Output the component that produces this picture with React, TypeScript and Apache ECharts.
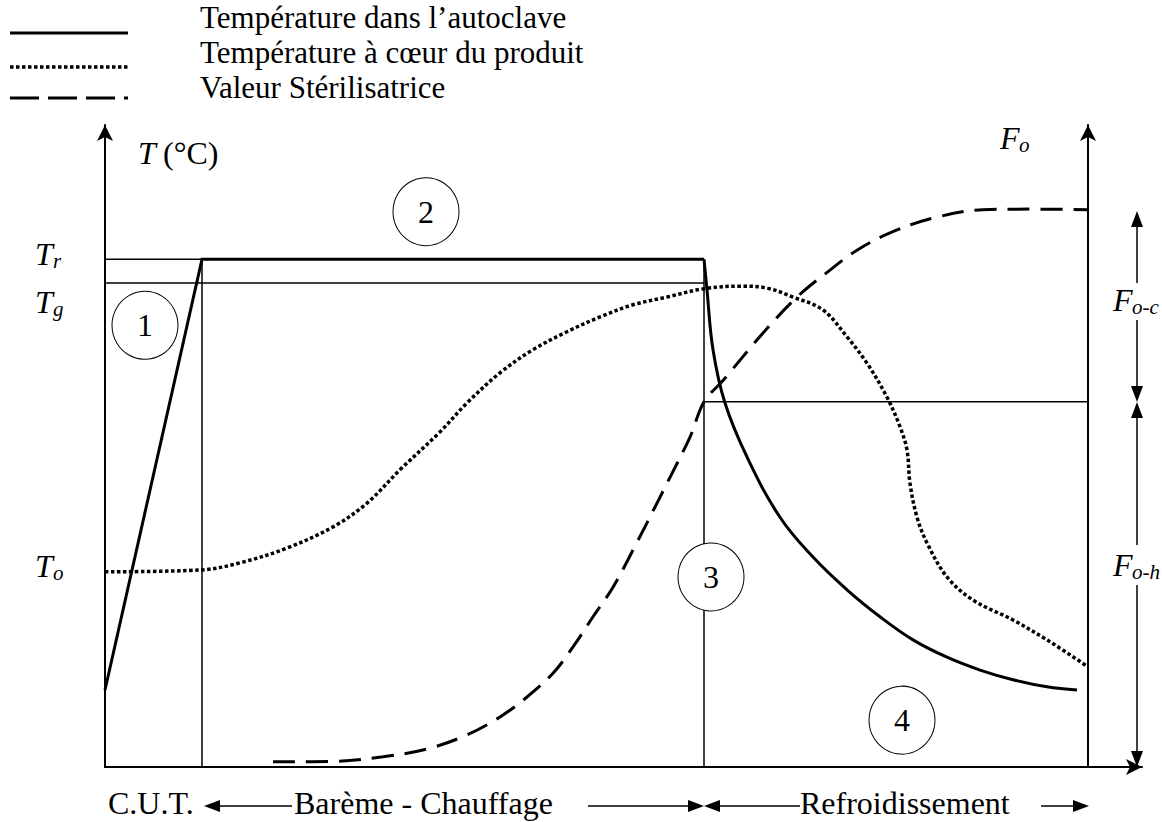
import React, { useEffect, useRef } from "react";
import * as echarts from "echarts";

// Arbitrary schematic units: x = time, y = temperature (left) / F0 (right)
const tCut = 9.7; // end of come-up time
const tCool = 59.9; // start of cooling
const tEnd = 98.3; // right axis (F0)
const levelTr = 79.1;
const levelTg = 75.4;
const levelFoH = 56.9;

const autoclaveHeatX = [0, 9.7, 59.9];
const autoclaveHeatY = [12.0, 79.1, 79.1];
const autoclaveCoolX = [59.9, 60.2, 60.8, 62.0, 64.2, 67.5, 70.8, 74.2, 77.5, 80.8, 84.2, 87.5, 90.8, 94.2, 97.2];
const autoclaveCoolY = [79.1, 74.3, 65.0, 56.7, 48.3, 38.9, 32.7, 27.6, 23.4, 19.8, 17.1, 15.1, 13.6, 12.5, 12.0];

const coreX = [0, 9.7, 13.5, 18.2, 22.8, 26.2, 29.5, 33.5, 36.2, 39.5, 42.8, 46.2, 49.5, 52.8, 56.2, 59.9, 63.5, 66.2, 68.8, 71.8, 74.2, 76.2, 78.2, 79.5, 80.2, 80.5, 81.2, 82.2, 84.2, 86.8, 90.8, 94.2, 98.3];
const coreY = [30.4, 30.7, 31.8, 34.1, 37.4, 41.1, 46.3, 52.2, 56.7, 61.4, 65.0, 67.8, 70.1, 72.0, 73.2, 74.5, 74.9, 74.6, 73.2, 71.2, 67.0, 62.9, 57.6, 53.0, 49.4, 44.2, 38.9, 34.9, 29.6, 26.0, 22.9, 19.8, 15.6];

const fX = [16.8, 23.2, 27.8, 32.2, 36.2, 39.5, 42.2, 44.8, 46.8, 48.8, 50.8, 52.8, 55.2, 56.2, 58.5, 59.9, 61.8, 65.8, 69.2, 72.5, 75.2, 78.5, 82.8, 87.8, 92.8, 98.3];
const fY = [0.8, 0.9, 1.6, 2.8, 5.0, 7.8, 10.9, 14.6, 18.7, 23.4, 28.0, 33.8, 41.1, 44.2, 51.4, 56.9, 60.2, 67.6, 73.2, 77.4, 80.5, 83.2, 85.5, 86.8, 86.9, 86.8];

const phaseLabels = ["1", "2", "3", "4"];
const phaseX = [4.0, 32.1, 60.6, 79.7];
const phaseY = [68.8, 86.5, 29.6, 7.3];

const legendLabels = [
  "Température dans l\u2019autoclave",
  "Température à cœur du produit",
  "Valeur Stérilisatrice",
];

const FONT = "'Liberation Serif', 'Times New Roman', serif";

const zip = (xs: number[], ys: number[]) => xs.map((x, i) => [x, ys[i]]);

function thin(data: number[][]) {
  return {
    type: "line",
    data,
    symbol: "none",
    silent: true,
    z: 1,
    lineStyle: { color: "#000", width: 1.5 },
  };
}

function txt(text: string, x: number, y: number, size: number, italic = false, align = "left") {
  return {
    type: "text",
    x,
    y,
    z: 100,
    style: {
      text,
      fill: "#000",
      font: `${italic ? "italic " : ""}${size}px ${FONT}`,
      fontFamily: FONT,
      fontSize: size,
      fontStyle: italic ? "italic" : "normal",
      align,
      verticalAlign: "middle",
    },
  };
}

function seg(x1: number, y1: number, x2: number, y2: number, w = 1.5, dash?: number[]) {
  return {
    type: "line",
    z: 100,
    shape: { x1, y1, x2, y2 },
    style: { stroke: "#000", lineWidth: w, lineDash: dash || null, lineCap: "butt" },
  };
}

function head(tx: number, ty: number, dir: "l" | "r" | "u" | "d") {
  const L = 16;
  const H = 6;
  let pts: number[][];
  if (dir === "l") pts = [[tx, ty], [tx + L, ty - H], [tx + L, ty + H]];
  else if (dir === "r") pts = [[tx, ty], [tx - L, ty - H], [tx - L, ty + H]];
  else if (dir === "u") pts = [[tx, ty], [tx - H, ty + L], [tx + H, ty + L]];
  else pts = [[tx, ty], [tx - H, ty - L], [tx + H, ty - L]];
  return { type: "polygon", z: 100, shape: { points: pts }, style: { fill: "#000" } };
}

export default function App() {
  const ref = useRef<HTMLDivElement>(null);
  useEffect(() => {
    const chart = echarts.init(ref.current!, null, { renderer: "svg" });
    const axisLine = (onZero: boolean) => ({
      show: true,
      onZero,
      symbol: ["none", "arrow"],
      symbolSize: [12, 16],
      lineStyle: { color: "#000", width: 2 },
    });
    const subY = 7;
    const graphic: any[] = [
      // legend
      seg(10, 33, 128, 33, 3),
      seg(10, 67, 128, 67, 3.5, [3.5, 2.5]),
      seg(10, 98, 128, 98, 3, [29, 9]),
      txt(legendLabels[0], 200, 17, 31),
      txt(legendLabels[1], 200, 52, 31),
      txt(legendLabels[2], 200, 87, 31),
      // axis titles
      txt("T", 138, 153, 32, true),
      txt("(°C)", 163, 153, 32),
      txt("F", 1000, 138, 32, true),
      txt("o", 1019, 138 + subY, 21, true),
      // left labels
      txt("T", 35, 254, 32, true),
      txt("r", 53, 254 + subY, 21, true),
      txt("T", 35, 302, 32, true),
      txt("g", 53, 302 + subY, 21, true),
      txt("T", 35, 566, 32, true),
      txt("o", 53, 566 + subY, 21, true),
      // right labels & arrows
      txt("F", 1113, 300, 32, true),
      txt("o-c", 1132, 300 + subY, 21, true),
      txt("F", 1113, 565, 32, true),
      txt("o-h", 1132, 565 + subY, 21, true),
      head(1137, 211, "u"),
      seg(1137, 225, 1137, 283),
      seg(1137, 320, 1137, 390),
      head(1137, 402, "d"),
      head(1137, 402, "u"),
      seg(1137, 414, 1137, 545),
      seg(1137, 585, 1137, 755),
      head(1137, 767, "d"),
      // bottom phase labels
      txt("C.U.T.", 108, 803, 32),
      head(204, 806, "l"),
      seg(216, 806, 292, 806),
      txt("Barème - Chauffage", 294, 803, 32),
      seg(588, 806, 692, 806),
      head(704, 806, "r"),
      head(704, 806, "l"),
      seg(716, 806, 800, 806),
      txt("Refroidissement", 800, 803, 32),
      seg(1041, 806, 1077, 806),
      head(1089, 806, "r"),
    ];

    const option: any = {
      animation: false,
      backgroundColor: "#fff",
      grid: { left: 105, right: 20, top: 125, bottom: 55, containLabel: false },
      xAxis: {
        type: "value",
        min: 0,
        max: 103.7,
        axisLine: axisLine(false),
        axisTick: { show: false },
        axisLabel: { show: false },
        splitLine: { show: false },
      },
      yAxis: [
        {
          type: "value",
          min: 0,
          max: 100,
          position: "left",
          axisLine: axisLine(false),
          axisTick: { show: false },
          axisLabel: { show: false },
          splitLine: { show: false },
        },
        {
          type: "value",
          min: 0,
          max: 100,
          position: "right",
          offset: -54,
          axisLine: axisLine(false),
          axisTick: { show: false },
          axisLabel: { show: false },
          splitLine: { show: false },
        },
      ],
      series: [
        thin([[0, levelTr], [tCut, levelTr]]),
        thin([[0, levelTg], [tCool, levelTg]]),
        thin([[tCut, 0], [tCut, levelTr]]),
        thin([[tCool, 0], [tCool, levelTr]]),
        thin([[tCool, levelFoH], [tEnd, levelFoH]]),
        {
          name: legendLabels[0],
          type: "line",
          data: zip(autoclaveHeatX, autoclaveHeatY),
          symbol: "none",
          z: 3,
          lineStyle: { color: "#000", width: 3, join: "miter" },
        },
        {
          name: legendLabels[0],
          type: "line",
          data: zip(autoclaveCoolX, autoclaveCoolY),
          symbol: "none",
          smooth: 0.4,
          z: 3,
          lineStyle: { color: "#000", width: 3 },
        },
        {
          name: legendLabels[1],
          type: "line",
          data: zip(coreX, coreY),
          symbol: "none",
          smooth: 0.35,
          z: 3,
          lineStyle: { color: "#000", width: 3.5, type: [3.5, 2.5], cap: "butt" },
        },
        {
          name: legendLabels[2],
          type: "line",
          data: zip(fX, fY),
          symbol: "none",
          smooth: 0.35,
          z: 3,
          lineStyle: { color: "#000", width: 3, type: [22, 11], cap: "butt" },
        },
        {
          type: "scatter",
          data: phaseX.map((x, i) => ({ value: [x, phaseY[i]], name: phaseLabels[i] })),
          symbol: "circle",
          symbolSize: [66, 68],
          z: 10,
          itemStyle: { color: "#fff", borderColor: "#000", borderWidth: 1, opacity: 1 },
          label: {
            show: true,
            position: "inside",
            formatter: (p: any) => p.name,
            color: "#000",
            fontFamily: FONT,
            fontSize: 32,
          },
        },
      ],
      graphic,
    };
    chart.setOption(option);
    return () => chart.dispose();
  }, []);
  return (
    <div
      ref={ref}
      style={{ position: "absolute", left: 0, top: 0, width: 1162, height: 822, background: "#fff" }}
    />
  );
}
